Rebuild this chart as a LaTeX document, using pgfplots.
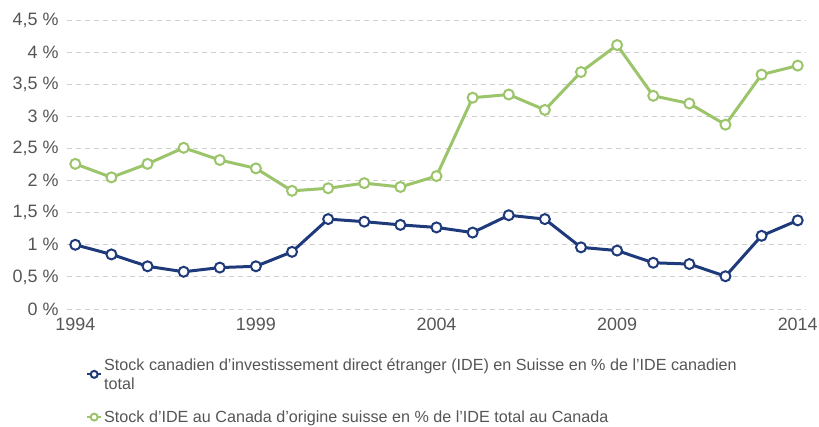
\documentclass[border=0pt]{standalone}
\usepackage{pgfplots}
\pgfplotsset{compat=1.18}
\usepackage{fontspec}
\setmainfont{Liberation Sans}
\definecolor{ideblue}{HTML}{1F3A7A}
\definecolor{idegreen}{HTML}{9BC46B}
\definecolor{txtgrey}{HTML}{555555}
\definecolor{gridgrey}{HTML}{CFCFCF}
\begin{document}
\begin{tikzpicture}[x=1bp,y=1bp]
\useasboundingbox (-67,-117) rectangle (752,309);
\begin{axis}[
  at={(0,0)}, anchor=south west, scale only axis,
  width=739bp, height=289bp,
  xmin=1993.77, xmax=2014.23, ymin=0, ymax=4.5,
  xtick={1994,1999,2004,2009,2014},
  xticklabels={1994,1999,2004,2009,2014},
  ytick={0,0.5,1,1.5,2,2.5,3,3.5,4,4.5},
  yticklabels={{0 \%},{0,5 \%},{1 \%},{1,5 \%},{2 \%},{2,5 \%},{3 \%},{3,5 \%},{4 \%},{4,5 \%}},
  ymajorgrids,
  grid style={gridgrey, line width=1bp, dash pattern=on 5bp off 4bp},
  axis line style={draw=none},
  major tick length=0pt,
  ticklabel style={font=\fontsize{18}{20}\selectfont, text=txtgrey},
  yticklabel style={xshift=-5bp},
  xticklabel style={yshift=-5bp},
  legend cell align=left,
  legend style={at={(0,0)}, anchor=north west, xshift=19bp, yshift=-47bp,
    draw=none, fill=none, inner sep=0pt, row sep=16bp,
    font=\fontsize{16.2}{19}\selectfont, text=txtgrey,
    cells={align=left}},
  legend image code/.code={\draw[#1, line width=2bp, mark size=3.5bp, mark repeat=2, mark phase=2] plot coordinates {(0,0)(7bp,0)(14bp,0)};},
]
\addplot[ideblue, line width=3bp, mark=*, mark size=5bp,
  mark options={fill=white, draw=ideblue, line width=2bp}] coordinates {
(1994,1.00) (1995,0.85) (1996,0.665) (1997,0.58) (1998,0.645) (1999,0.665)
(2000,0.89) (2001,1.40) (2002,1.36) (2003,1.31) (2004,1.27) (2005,1.19)
(2006,1.46) (2007,1.40) (2008,0.96) (2009,0.91) (2010,0.72) (2011,0.70)
(2012,0.51) (2013,1.14) (2014,1.38)};
\addplot[idegreen, line width=3bp, mark=*, mark size=5bp,
  mark options={fill=white, draw=idegreen, line width=2bp}] coordinates {
(1994,2.26) (1995,2.05) (1996,2.26) (1997,2.51) (1998,2.32) (1999,2.19)
(2000,1.84) (2001,1.88) (2002,1.96) (2003,1.90) (2004,2.07) (2005,3.29)
(2006,3.34) (2007,3.10) (2008,3.69) (2009,4.11) (2010,3.32) (2011,3.20)
(2012,2.87) (2013,3.65) (2014,3.79)};
\legend{{Stock canadien d’investissement direct étranger (IDE) en Suisse en \% de l’IDE canadien\\total},
  {Stock d’IDE au Canada d’origine suisse en \% de l’IDE total au Canada}}
\end{axis}
\end{tikzpicture}
\end{document}
